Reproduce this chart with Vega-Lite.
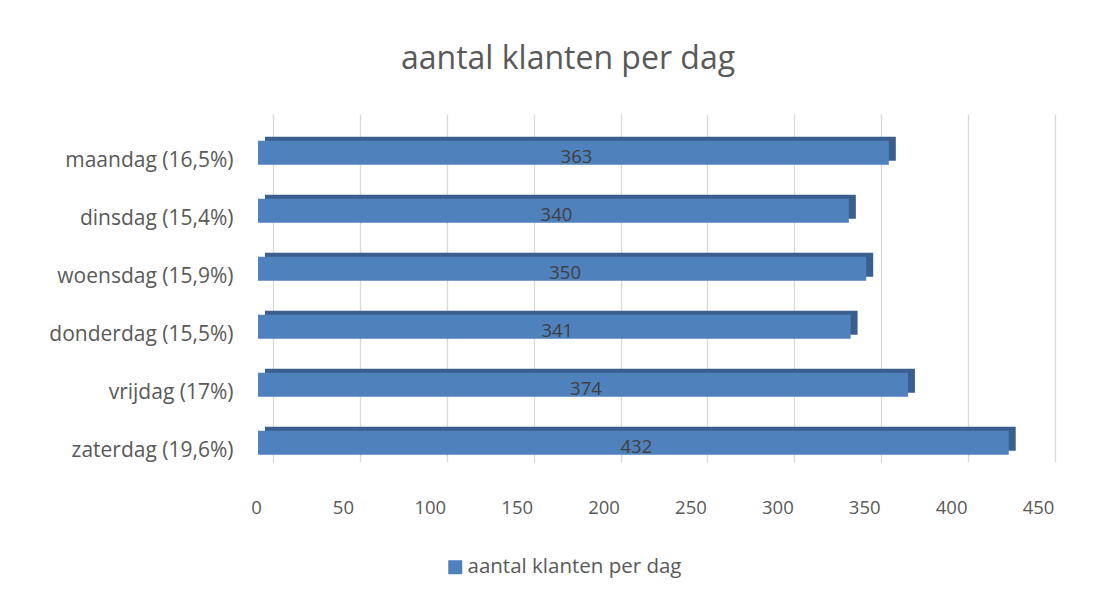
{
  "$schema": "https://vega.github.io/schema/vega-lite/v6.json",
  "autosize": {"type": "none"},
  "width": 782,
  "height": 348,
  "padding": {"left": 273, "top": 114, "right": 58, "bottom": 134},
  "background": "white",
  "title": {
    "text": "aantal klanten per dag",
    "anchor": "middle",
    "frame": "group",
    "dx": -96,
    "offset": 38,
    "fontSize": 32,
    "font": "Open Sans",
    "fontWeight": "normal",
    "color": "#595959"
  },
  "data": {
    "values": [
      {"dag": "maandag (16,5%)", "klanten": 363},
      {"dag": "dinsdag (15,4%)", "klanten": 340},
      {"dag": "woensdag (15,9%)", "klanten": 350},
      {"dag": "donderdag (15,5%)", "klanten": 341},
      {"dag": "vrijdag (17%)", "klanten": 374},
      {"dag": "zaterdag (19,6%)", "klanten": 432}
    ]
  },
  "encoding": {
    "y": {
      "field": "dag",
      "type": "nominal",
      "sort": null,
      "title": null,
      "scale": {"paddingInner": 0.586, "paddingOuter": 0.293, "align": 0.79},
      "axis": {
        "domain": false,
        "ticks": false,
        "labelPadding": 40,
        "labelOffset": 8,
        "labelFontSize": 21,
        "labelFont": "Open Sans",
        "labelColor": "#595959",
        "labelLimit": 0
      }
    },
    "x": {
      "field": "klanten",
      "type": "quantitative",
      "title": null,
      "scale": {"domain": [0, 450], "nice": false},
      "axis": {
        "values": [0, 50, 100, 150, 200, 250, 300, 350, 400, 450],
        "domain": false,
        "ticks": false,
        "labelFlush": false,
        "labelOffset": -17,
        "labelPadding": 36,
        "labelFontSize": 18.5,
        "labelFont": "Open Sans",
        "labelColor": "#595959",
        "gridColor": "#d9d9d9",
        "gridWidth": 1.3
      }
    }
  },
  "layer": [
    {
      "mark": {"type": "bar", "color": "#3a5f8e", "xOffset": -8, "yOffset": -4}
    },
    {
      "mark": {"type": "bar", "color": "#4f81bd", "xOffset": -15},
      "encoding": {
        "color": {
          "datum": "aantal klanten per dag",
          "type": "nominal",
          "scale": {"range": ["#4f81bd"]},
          "legend": {
            "title": null,
            "orient": "none",
            "legendX": 172,
            "legendY": 443,
            "symbolType": "square",
            "symbolSize": 196,
            "symbolStrokeWidth": 0,
            "labelFontSize": 20.5,
            "labelFont": "Open Sans",
            "labelColor": "#595959",
            "labelOffset": 2,
            "labelLimit": 0
          }
        }
      }
    },
    {
      "mark": {"type": "text", "fontSize": 18.5, "font": "Open Sans", "color": "#404040", "dy": 4, "dx": -12},
      "encoding": {
        "x": {"field": "klanten", "type": "quantitative", "stack": "zero", "bandPosition": 0.5},
        "text": {"field": "klanten", "type": "quantitative"}
      }
    }
  ],
  "config": {"view": {"stroke": null}}
}
